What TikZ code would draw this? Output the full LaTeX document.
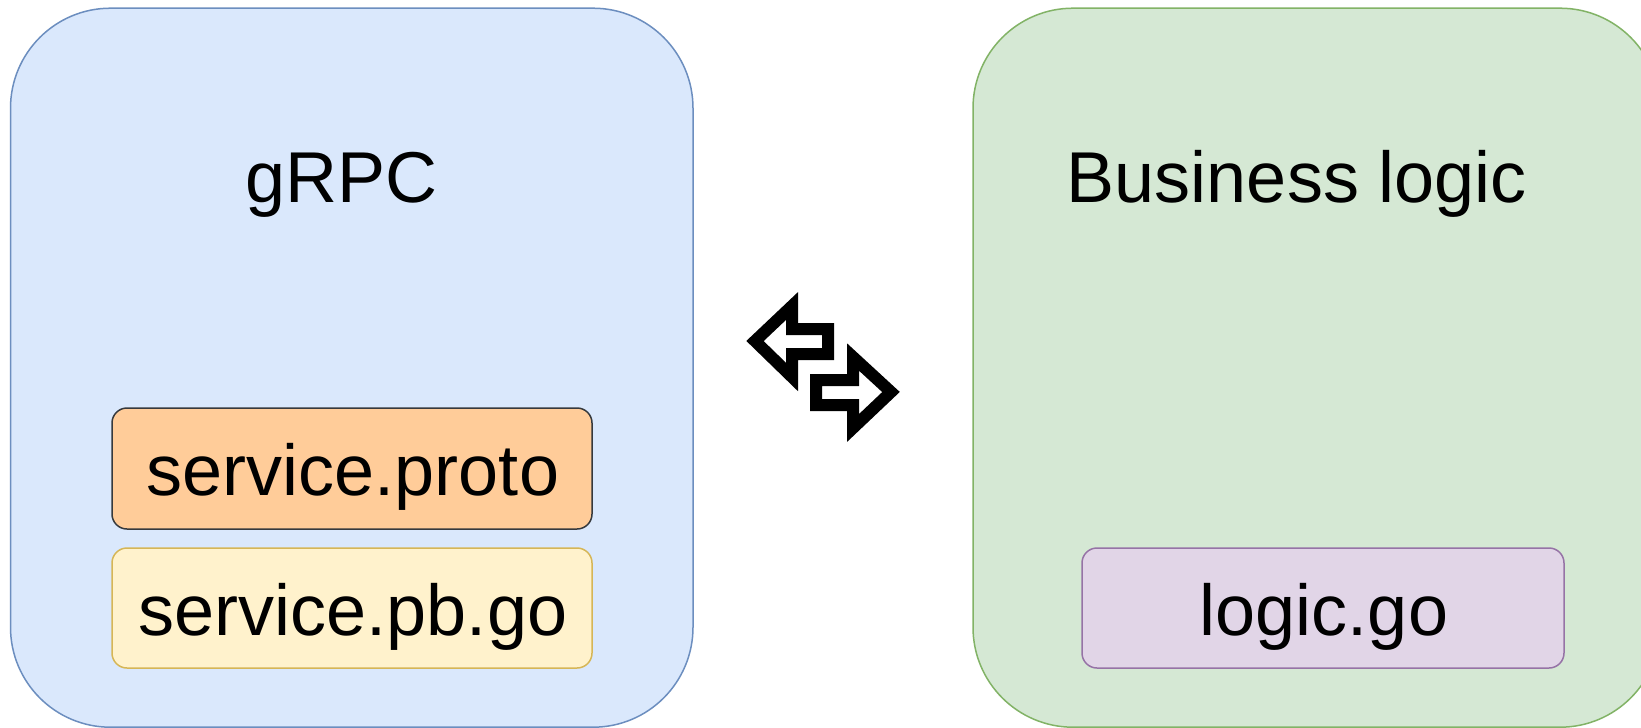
\documentclass[tikz,border=0pt]{standalone}
\usepackage{fontspec}
\setmainfont{Liberation Sans}
\definecolor{blueF}{HTML}{DAE8FC}
\definecolor{blueD}{HTML}{6C8EBF}
\definecolor{greenF}{HTML}{D5E8D4}
\definecolor{greenD}{HTML}{82B366}
\definecolor{orangeF}{HTML}{FFCC99}
\definecolor{orangeD}{HTML}{36393D}
\definecolor{yellowF}{HTML}{FFF2CC}
\definecolor{yellowD}{HTML}{D6B656}
\definecolor{purpleF}{HTML}{E1D5E7}
\definecolor{purpleD}{HTML}{9673A6}
\tikzset{
  container/.style={draw, line width=1.5pt, rounded corners=100pt, inner sep=0pt},
  filebox/.style={draw, line width=1.5pt, rounded corners=15pt, inner sep=0pt},
  lbl/.style={anchor=base, inner sep=0pt, font=\fontsize{72}{86}\selectfont},
  swap/.style={draw=black, line width=12pt, miter limit=10, fill=white}
}
\begin{document}
\begin{tikzpicture}[x=1pt,y=-1pt]
\useasboundingbox (0,0) rectangle (1641,728);
\fill[white] (0,0) rectangle (1641,728);
\begin{scope}
\clip (0,0) rectangle (1641,728);
\node[container, fill=blueF, draw=blueD, minimum width=682.5pt, minimum height=719pt] (grpc) at (351.75,367.7) {};
\node[container, fill=greenF, draw=greenD, minimum width=687pt, minimum height=719pt] (biz) at (1316.5,367.7) {};
\end{scope}
\node[lbl] (grpcT) at (341.5,202) {gRPC};
\node[lbl] (bizT) at (1297,202) {Business logic};
\node[filebox, fill=orangeF, draw=orangeD, minimum width=480pt, minimum height=121pt] (proto) at (352,468.5) {};
\node[lbl] (protoT) at (353,495) {service.proto};
\node[filebox, fill=yellowF, draw=yellowD, minimum width=480pt, minimum height=120pt] (pbgo) at (352,608) {};
\node[lbl] (pbgoT) at (353,635) {service.pb.go};
\node[filebox, fill=purpleF, draw=purpleD, minimum width=482pt, minimum height=120pt] (logic) at (1323,608) {};
\node[lbl] (logicT) at (1324,635) {logic.go};
% swap icon
\draw[swap] (755,341) -- (792,306) -- (792,329) -- (828,329) -- (828,354) -- (792,354) -- (792,377) -- cycle;
\draw[swap] (891,392) -- (853,357) -- (853,380) -- (816,380) -- (816,405) -- (853,405) -- (853,428) -- cycle;
\end{tikzpicture}
\end{document}
